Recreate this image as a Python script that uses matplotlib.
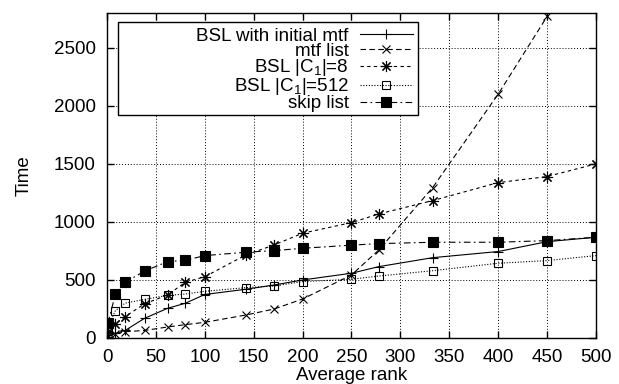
import matplotlib
matplotlib.use('Agg')
import matplotlib.pyplot as plt
from matplotlib.offsetbox import DrawingArea

plt.rcParams['font.family'] = ['Liberation Sans', 'DejaVu Sans']
plt.rcParams['mathtext.fontset'] = 'custom'
plt.rcParams['mathtext.rm'] = 'Liberation Sans'
plt.rcParams['mathtext.it'] = 'Liberation Sans:italic'
plt.rcParams['font.size'] = 13.5

# average rank (x) for each measurement
rank = [1, 8.5, 18.5, 38.5, 62, 80, 100, 142, 171, 200, 250, 278, 333, 400, 450, 500]

bsl_mtf = [10, 40, 65, 170, 256, 299, 375, 420, 457, 500, 558, 615, 692, 745, 830, 868]
mtf_list = [15, 34, 54, 65, 95, 115, 135, 198, 250, 336, 543, 759, 1296, 2101, 2770]
bsl_c8 = [50, 121, 184, 295, 371, 480, 528, 716, 802, 903, 994, 1069, 1184, 1339, 1391, 1500]
bsl_c512 = [97, 235, 300, 333, 367, 379, 402, 434, 448, 486, 506, 534, 580, 644, 667, 710]
skip_list = [127, 377, 480, 577, 658, 669, 710, 739, 753, 773, 800, 813, 825, 825, 839, 868]

labels = ['BSL with initial mtf', 'mtf list', 'BSL |C$_1$|=8', 'BSL |C$_1$|=512', 'skip list']

fig = plt.figure(figsize=(6.19, 3.84), dpi=100)
ax = fig.add_axes([0.1729, 0.1198, 0.7899, 0.8463])

lw = 0.8
ax.plot(rank, bsl_mtf, color='black', lw=lw, ls='-', marker='+', ms=7, mew=lw, label=labels[0])
ax.plot(rank[:len(mtf_list)], mtf_list, color='black', lw=lw, ls=(0, (5, 3)),
        marker='x', ms=6, mew=lw, label=labels[1])
ax.plot(rank, bsl_c8, color='black', lw=lw, ls=(0, (3, 3)),
        marker=(8, 2, 0), ms=8, mew=lw, label=labels[2])
ax.plot(rank, bsl_c512, color='black', lw=lw, ls=(0, (1, 1.5)),
        marker='s', ms=6, mfc='none', mew=lw, label=labels[3])
ax.plot(rank, skip_list, color='black', lw=lw, ls=(0, (6, 3, 1.5, 3)),
        marker='s', ms=6.5, mfc='black', mew=lw, label=labels[4])

ax.set_xlim(0, 500)
ax.set_ylim(0, 2800)
ax.set_xticks(range(0, 501, 50))
ax.set_yticks(range(0, 2501, 500))
ax.grid(True, color='black', ls=(0, (1, 2)), lw=0.7)
ax.set_axisbelow(True)
ax.tick_params(direction='in', length=5, width=1, top=True, right=True)
ax.tick_params(axis='x', pad=8)
ax.tick_params(axis='y', pad=8)
for s in ax.spines.values():
    s.set_linewidth(1)

ax.set_xlabel('Average rank', labelpad=1)
ax.set_ylabel('Time', labelpad=15)

# gnuplot-like key: text right-aligned, sample on the right
leg = ax.legend(loc='upper left', bbox_to_anchor=(0.0225, 0.972), borderaxespad=0,
                markerfirst=False, handlelength=2.8, handletextpad=0.6,
                labelspacing=-0.12, borderpad=0.3, fancybox=False, framealpha=1,
                edgecolor='black')
leg.get_frame().set_linewidth(1)
# widen the key box like gnuplot does
leg._legend_handle_box.get_children()[0].get_children().append(DrawingArea(208, 0))

fig.savefig('out.png', dpi=100)
